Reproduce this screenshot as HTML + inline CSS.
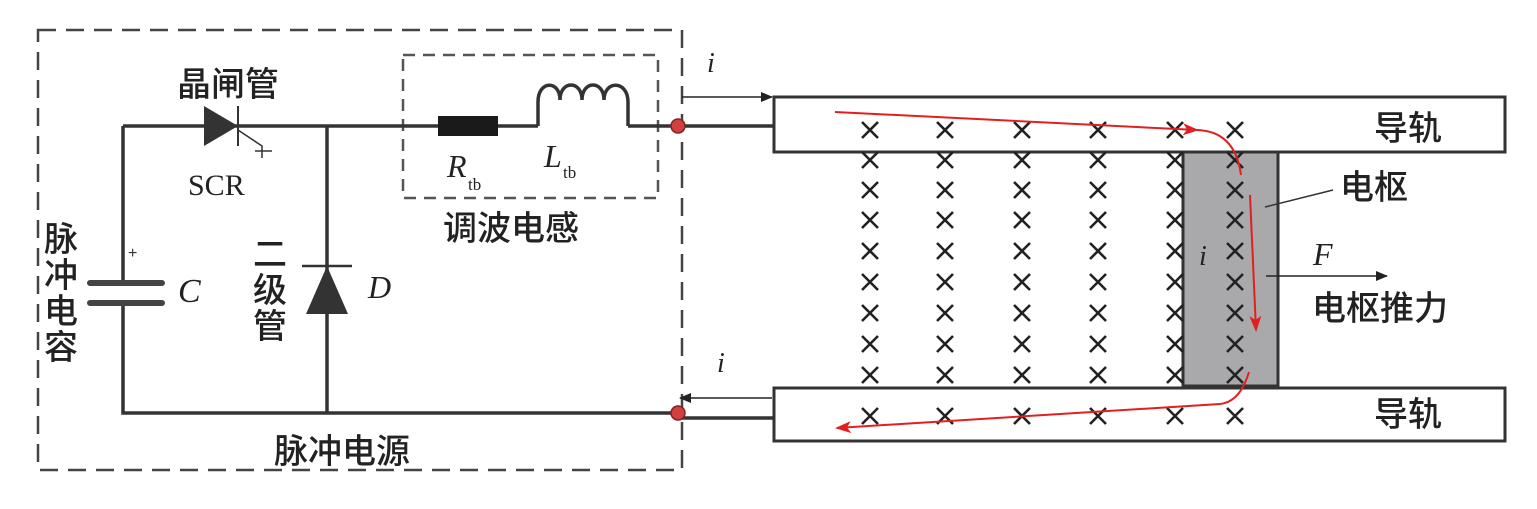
<!DOCTYPE html>
<html><head><meta charset="utf-8"><style>
body{margin:0;background:#fff}
svg{display:block}
.cj{font-family:"Liberation Sans","Noto Sans CJK SC",sans-serif;font-size:34px;fill:#222;font-weight:500}
.it{font-family:"Liberation Serif",serif;font-style:italic;fill:#222}
</style></head><body>
<svg width="1537" height="509" viewBox="0 0 1537 509" xmlns="http://www.w3.org/2000/svg">
<defs>
<marker id="ab" markerWidth="12" markerHeight="12" refX="11" refY="6" orient="auto" markerUnits="userSpaceOnUse"><path d="M0,1 L12,6 L0,11 Z" fill="#222"/></marker>
<marker id="ar" markerWidth="16" markerHeight="14" refX="14" refY="7" orient="auto" markerUnits="userSpaceOnUse"><path d="M0,1 L16,7 L0,13 L4,7 Z" fill="#e02020"/></marker>
<g id="xm"><path d="M-8,-8 L8,8 M8,-8 L-8,8" stroke="#222" stroke-width="2.6"/></g>
<g id="col">
<use href="#xm" y="160"/><use href="#xm" y="190"/><use href="#xm" y="220"/><use href="#xm" y="251"/><use href="#xm" y="282"/><use href="#xm" y="313"/><use href="#xm" y="344"/><use href="#xm" y="375"/>
<use href="#xm" y="130"/><use href="#xm" y="416"/>
</g>
</defs>
<rect x="38" y="30" width="644" height="440" fill="none" stroke="#444" stroke-width="2.5" stroke-dasharray="18,10"/>
<rect x="403" y="55" width="255" height="143" fill="none" stroke="#555" stroke-width="2.5" stroke-dasharray="12,8"/>
<g stroke="#333" stroke-width="3.5" fill="none">
<path d="M123,126 H438 M498,126 H538 M628,126 H680"/>
<path d="M123,126 V283 M123,303 V413 H680"/>
<path d="M327,126 V413"/>
<path d="M538,126 V102 M628,102 V126"/>
<path d="M538,102 C538,80 560,80 560,100 C560,80 582,80 582,100 C582,80 604,80 604,100 C604,80 628,80 628,102"/>
<path d="M680,126 H775 M680,418 H775"/>
</g>
<g stroke="#444" stroke-width="6" stroke-linecap="round"><path d="M90,283 H162 M90,303 H162"/></g>
<text x="128" y="258" font-size="16" font-family="Liberation Sans" fill="#333">+</text>
<path d="M204,106 L238,126 L204,146 Z" fill="#333"/>
<path d="M238,106 V146" stroke="#333" stroke-width="2"/>
<path d="M238,130 L262,146 V158 M255,151 H272" stroke="#333" stroke-width="1.5" fill="none"/>
<path d="M306,314 L327,266 L348,314 Z" fill="#333"/>
<path d="M302,266 H352" stroke="#333" stroke-width="2.5"/>
<rect x="438" y="116" width="60" height="20" fill="#1a1a1a"/>
<circle cx="678" cy="126" r="7" fill="#d04040" stroke="#822" stroke-width="1.5"/>
<circle cx="678" cy="413" r="7" fill="#d04040" stroke="#822" stroke-width="1.5"/>
<path d="M682,97 H772" stroke="#222" stroke-width="1.5" marker-end="url(#ab)"/>
<path d="M772,398 H680" stroke="#222" stroke-width="1.5" marker-end="url(#ab)"/>
<text class="it" x="707" y="72" font-size="28">i</text>
<text class="it" x="717" y="372" font-size="28">i</text>
<rect x="774" y="97" width="731" height="55" fill="#fff" stroke="#333" stroke-width="3"/>
<rect x="774" y="388" width="731" height="53" fill="#fff" stroke="#333" stroke-width="3"/>
<rect x="1183" y="152" width="95" height="234" fill="#a9a9ab" stroke="#333" stroke-width="3"/>
<use href="#col" x="870"/><use href="#col" x="945"/><use href="#col" x="1022"/><use href="#col" x="1098"/><use href="#col" x="1175"/><use href="#col" x="1235"/>
<path d="M835,112 L1197,130" stroke="#e02020" stroke-width="2" fill="none" marker-end="url(#ar)"/>
<path d="M1195,130 Q1235,130 1241,175 M1250,195 L1256,330" stroke="#e02020" stroke-width="2" fill="none" marker-end="url(#ar)"/>
<path d="M1249,372 Q1240,402 1220,404 L837,428" stroke="#e02020" stroke-width="2" fill="none" marker-end="url(#ar)"/>
<path d="M1265,207 L1333,190" stroke="#333" stroke-width="1.5"/>
<path d="M1266,276 H1387" stroke="#222" stroke-width="1.5" marker-end="url(#ab)"/>
<text class="it" x="1313" y="265" font-size="32">F</text>
<text class="it" x="1199" y="265" font-size="28">i</text>
<text class="cj" x="1374" y="140">导轨</text>
<text class="cj" x="1374" y="426">导轨</text>
<text class="cj" x="1340" y="199">电枢</text>
<text class="cj" x="1312" y="320">电枢推力</text>
<text class="cj" x="177" y="96">晶闸管</text>
<text x="188" y="195" font-family="Liberation Serif" font-size="30" fill="#222">SCR</text>
<text class="it" x="447" y="177" font-size="32">R</text><text x="468" y="190" font-family="Liberation Serif" font-size="17" fill="#222">tb</text>
<text class="it" x="544" y="167" font-size="32">L</text><text x="563" y="178" font-family="Liberation Serif" font-size="17" fill="#222">tb</text>
<text class="cj" x="443" y="240">调波电感</text>
<text class="cj" x="44" y="251">脉</text><text class="cj" x="44" y="287">冲</text><text class="cj" x="44" y="323">电</text><text class="cj" x="44" y="359">容</text>
<text class="cj" x="253" y="266">二</text><text class="cj" x="253" y="302">级</text><text class="cj" x="253" y="338">管</text>
<text class="it" x="178" y="302" font-size="34">C</text>
<text class="it" x="368" y="298" font-size="32">D</text>
<text class="cj" x="274" y="463">脉冲电源</text>
</svg>
</body></html>
